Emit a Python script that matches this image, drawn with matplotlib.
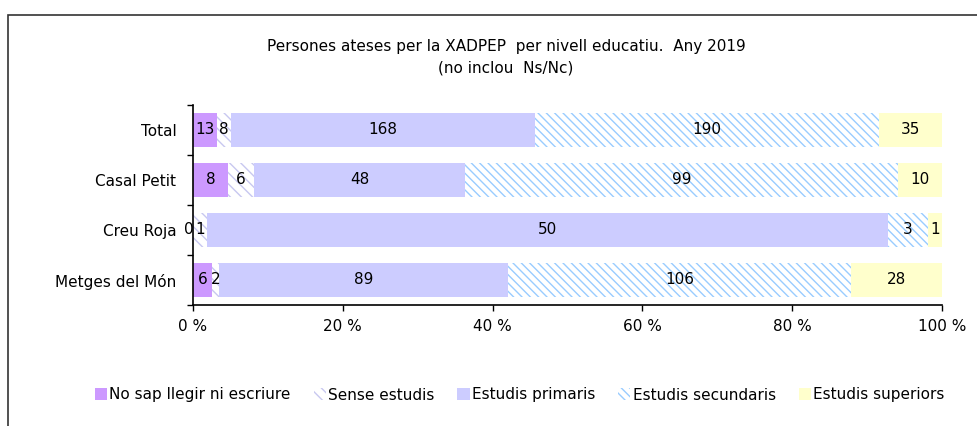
import numpy as np
import matplotlib.pyplot as plt
from matplotlib.patches import Rectangle, Patch

plt.rcParams['font.family'] = ['DejaVu Sans']
plt.rcParams['hatch.linewidth'] = 1.0

# data
categories = ["Total", "Casal Petit", "Creu Roja", "Metges del Món"]
series = ["No sap llegir ni escriure", "Sense estudis", "Estudis primaris",
          "Estudis secundaris", "Estudis superiors"]
no_sap = [13, 8, 0, 6]
sense = [8, 6, 1, 2]
primaris = [168, 48, 50, 89]
secundaris = [190, 99, 3, 106]
superiors = [35, 10, 1, 28]

values = np.array([no_sap, sense, primaris, secundaris, superiors], dtype=float)
shares = values / values.sum(axis=0) * 100

FS = 11

# styles: (face, hatch, hatch colour)
styles = [
    ("#CC99FF", None, None),
    ("white", "\\\\\\", "#C8C8F0"),
    ("#CCCCFF", None, None),
    ("white", "\\\\\\\\", "#99CCFF"),
    ("#FFFFCC", None, None),
]

fig = plt.figure(figsize=(9.77, 4.26), dpi=100)
ax = fig.add_axes([193 / 977, 1 - 305 / 426, 749 / 977, 200 / 426])

y = np.arange(len(categories))
left = np.zeros(len(categories))
handles = []
for k, name in enumerate(series):
    face, hatch, hc = styles[k]
    ax.barh(y, shares[k], left=left, height=0.68, color=face,
            hatch=hatch, edgecolor=hc if hc else face, linewidth=0)
    for i in range(len(categories)):
        v = values[k][i]
        if v == 0:
            # empty segment: label sits just left of the bar start
            ax.text(left[i] + 0.1, y[i], "0", ha="right", va="center",
                    fontsize=FS, color="black")
        else:
            ax.text(left[i] + shares[k][i] / 2, y[i], f"{int(v)}",
                    ha="center", va="center", fontsize=FS, color="black")
    left += shares[k]
    handles.append(Patch(facecolor=face, hatch=hatch,
                         edgecolor=hc if hc else face, linewidth=0, label=name))

ax.set_xlim(0, 100)
ax.set_ylim(len(categories) - 0.5, -0.5)
ax.set_xticks(range(0, 101, 20), [f"{v} %" for v in range(0, 101, 20)])
ax.set_yticks(y, categories)
ax.set_yticks(np.arange(-0.5, len(categories), 1.0), minor=True)
ax.tick_params(axis="y", which="major", length=0, pad=12, labelsize=FS)
ax.tick_params(axis="y", which="minor", length=4, width=1)
ax.tick_params(axis="x", length=4, width=1, labelsize=FS, pad=6)
for s in ["top", "right"]:
    ax.spines[s].set_visible(False)
for s in ["left", "bottom"]:
    ax.spines[s].set_linewidth(1.2)

fig.text(0.518, 1 - 47 / 426, "Persones ateses per la XADPEP  per nivell educatiu.  Any 2019",
         ha="center", va="center", fontsize=FS)
fig.text(0.518, 1 - 68 / 426, "(no inclou  Ns/Nc)", ha="center", va="center", fontsize=FS)

fig.legend(handles=handles, loc="center", bbox_to_anchor=(0.532, 1 - 395 / 426),
           ncol=5, frameon=False, fontsize=FS, handlelength=0.8, handleheight=0.8,
           handletextpad=0.15, columnspacing=1.5)

# outer frame of the chart area
frame = Rectangle((8 / 977, -0.1), 1.2, 1 - 15 / 426 + 0.1, transform=fig.transFigure,
                  fill=False, edgecolor="#333333", linewidth=1.2)
fig.patches.append(frame)

fig.savefig("out.png", dpi=100)
